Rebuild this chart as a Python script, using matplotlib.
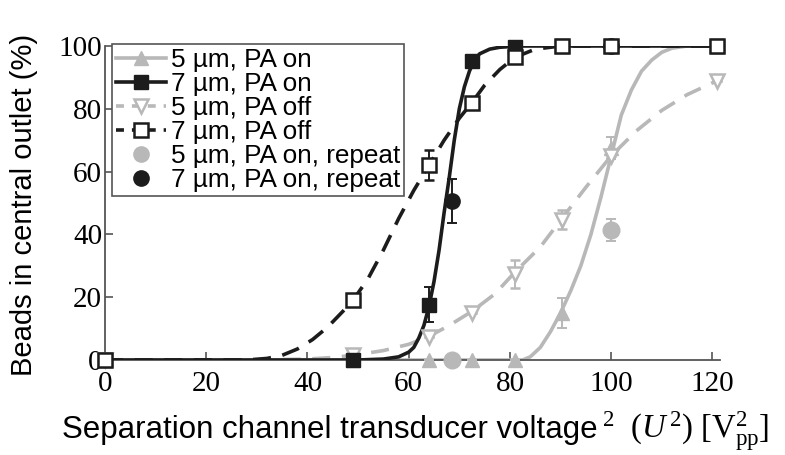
import matplotlib
matplotlib.use("Agg")
import matplotlib.pyplot as plt
from matplotlib.lines import Line2D

plt.rcParams['mathtext.fontset'] = 'custom'
plt.rcParams['mathtext.rm'] = 'Liberation Serif'
plt.rcParams['mathtext.it'] = 'Liberation Serif:italic'

# ---------------- data ----------------
volt_sq = [0, 49, 64, 72.5, 81, 90.2, 100, 121]

on5_y = [0, 0, 0, 0, 0, 15, 67.5, 100]
on5_err = [0, 0, 0, 0, 0, 4.8, 3.5, 0]

on7_y = [0, 0, 17.6, 95.3, 99.6, 100, 100, 100]
on7_err = [0, 0, 5.5, 0, 0, 0, 0, 0]

off5_y = [0, 1.5, 7.3, 15, 27.5, 44.7, 65, 89]
off5_err = [0, 0, 0, 0, 4.5, 3, 0, 0]

off7_y = [0, 19, 62, 82, 96.4, 100, 100, 100]
off7_err = [0, 0, 4.8, 0, 0, 0, 0, 0]

rep_x = [68.5, 100]
rep5_y = [0, 41.5]
rep5_err = [0, 3.5]
rep7_y = [50.6, 100]
rep7_err = [7, 0]

# fitted / connecting curves
fit_on7_x = [0, 50, 55, 58, 60, 61, 62, 63, 64, 65, 66, 67, 68, 69, 70, 71, 72, 73, 74, 76, 78, 82, 90, 100, 121]
fit_on7_y = [0, 0, 0.3, 1, 2.5, 4, 7, 11, 17, 25, 35, 47, 58, 70, 80, 87, 92, 95.5, 97.5, 99, 99.6, 100, 100, 100, 100]

fit_on5_x = [0, 82.5, 84, 86, 88, 90, 92, 94, 96, 98, 100, 102, 104, 106, 108, 110, 112, 115, 121]
fit_on5_y = [0, 0, 1, 4, 9, 15, 22, 30, 40, 52, 65, 78, 86, 92, 95.5, 98, 99.3, 100, 100]

fit_off7_x = [0, 28, 32, 35, 38, 41, 44, 47, 49, 52, 55, 58, 61, 64, 67, 70, 72.5, 75, 78, 81, 85, 90, 100, 121]
fit_off7_y = [0, 0, 0.5, 1.5, 3.5, 6.5, 10.5, 15.5, 19, 26, 35, 45, 54, 62, 70, 77, 82, 87.5, 92.5, 96.4, 99, 100, 100, 100]

fit_off5_x = [0, 30, 40, 45, 49, 55, 60, 64, 68, 72.5, 77, 81, 86, 90, 95, 100, 105, 110, 115, 121]
fit_off5_y = [0, 0, 0.3, 0.8, 1.5, 3, 5, 7.5, 11, 15.5, 21, 28, 36, 44.5, 55, 65, 73, 79.5, 84.5, 89]

x_ticks = [0, 20, 40, 60, 80, 100, 120]
y_ticks = [0, 20, 40, 60, 80, 100]

labels = ["5 µm, PA on", "7 µm, PA on", "5 µm, PA off", "7 µm, PA off",
          "5 µm, PA on, repeat", "7 µm, PA on, repeat"]

# ---------------- style ----------------
GRAY = '#b8b8b8'
BLACK = '#1c1c1c'
SPINE = '#555555'
LW = 2.6
DASH = (0, (5, 3.2))

fig = plt.figure(figsize=(7.85, 4.55), dpi=100)
ax = fig.add_axes([105 / 785, 95 / 455, 615 / 785, 314 / 455])

# curves
ax.plot(fit_off5_x, fit_off5_y, color=GRAY, lw=LW, ls=DASH, zorder=2)
ax.plot(fit_on5_x, fit_on5_y, color=GRAY, lw=LW, zorder=2)
ax.plot(fit_off7_x, fit_off7_y, color=BLACK, lw=LW, ls=DASH, zorder=3)
ax.plot(fit_on7_x, fit_on7_y, color=BLACK, lw=LW, zorder=3)

ekw = dict(ls='none', capsize=3.5, elinewidth=1.4, capthick=1.4, clip_on=False)
ax.errorbar(volt_sq, on5_y, yerr=on5_err, marker='^', ms=10, color=GRAY,
            mfc=GRAY, mec=GRAY, zorder=4, **ekw)
ax.errorbar(volt_sq, off5_y, yerr=off5_err, marker='v', ms=10, color=GRAY,
            mfc='white', mec=GRAY, mew=1.8, zorder=4, **ekw)
ax.errorbar(rep_x, rep5_y, yerr=rep5_err, marker='o', ms=12, color=GRAY,
            mfc=GRAY, mec=GRAY, zorder=4, **ekw)
ax.errorbar(rep_x, rep7_y, yerr=rep7_err, marker='o', ms=11, color=BLACK,
            mfc=BLACK, mec=BLACK, zorder=5, **ekw)
ax.errorbar(volt_sq, on7_y, yerr=on7_err, marker='s', ms=9.5, color=BLACK,
            mfc=BLACK, mec=BLACK, zorder=5, **ekw)
ax.errorbar(volt_sq, off7_y, yerr=off7_err, marker='s', ms=9.5, color=BLACK,
            mfc='white', mec=BLACK, mew=1.8, zorder=6, **ekw)

ax.set_xlim(0, 121.5)
ax.set_ylim(0, 100)
ax.set_xticks(x_ticks)
ax.set_yticks(y_ticks)
ax.set_xticklabels([str(v) for v in x_ticks], family='Liberation Serif', fontsize=21)
ax.set_yticklabels([str(v) for v in y_ticks], family='Liberation Serif', fontsize=21)
ax.tick_params(direction='in', length=6, width=1.2, color=SPINE, pad=2)
ax.tick_params(axis='x', pad=8)
for s in ['top', 'right']:
    ax.spines[s].set_visible(False)
for s in ['left', 'bottom']:
    ax.spines[s].set_color(SPINE)
    ax.spines[s].set_linewidth(1.3)

# legend
handles = [
    Line2D([], [], color=GRAY, lw=LW, marker='^', ms=10, mfc=GRAY, mec=GRAY),
    Line2D([], [], color=BLACK, lw=LW, marker='s', ms=9.5, mfc=BLACK, mec=BLACK),
    Line2D([], [], color=GRAY, lw=LW, ls=(0, (2.2, 2.2)), marker='v', ms=10, mfc='white', mec=GRAY, mew=1.8),
    Line2D([], [], color=BLACK, lw=LW, ls=(0, (2.2, 2.2)), marker='s', ms=9.5, mfc='white', mec=BLACK, mew=1.8),
    Line2D([], [], ls='none', marker='o', ms=11, mfc=GRAY, mec=GRAY),
    Line2D([], [], ls='none', marker='o', ms=11, mfc=BLACK, mec=BLACK),
]
leg = ax.legend(handles, labels, loc='upper left',
                bbox_to_anchor=(112 / 785, 1 - 44 / 455), bbox_transform=fig.transFigure,
                borderaxespad=0, frameon=True, fancybox=False, framealpha=1,
                edgecolor=SPINE, handlelength=1.9, handletextpad=0.2,
                labelspacing=0.0, borderpad=0.15,
                prop={'family': 'Liberation Sans', 'size': 18.8})
leg.get_frame().set_linewidth(1.2)
leg.set_zorder(10)

# y label
fig.text(24 / 785, 1 - 205 / 455, "Beads in central outlet (%)", rotation=90,
         ha='center', va='center', family='Liberation Sans', fontsize=21)

# x label (sans part + serif math part)
BASE = 1 - 438 / 455
t1 = fig.text(62 / 785, BASE, "Separation channel transducer voltage",
              ha='left', va='baseline', family='Liberation Sans', fontsize=22.5)
fig.canvas.draw()
bb = t1.get_window_extent(renderer=fig.canvas.get_renderer())
fig.text((bb.x1 + 4) / fig.bbox.width, BASE,
         r"$^{2}\ \ (U^{\,2})\ [\mathrm{V}^{2}_{\mathrm{pp}}]$",
         ha='left', va='baseline', fontsize=23.5)

fig.savefig("out.png", dpi=100)
